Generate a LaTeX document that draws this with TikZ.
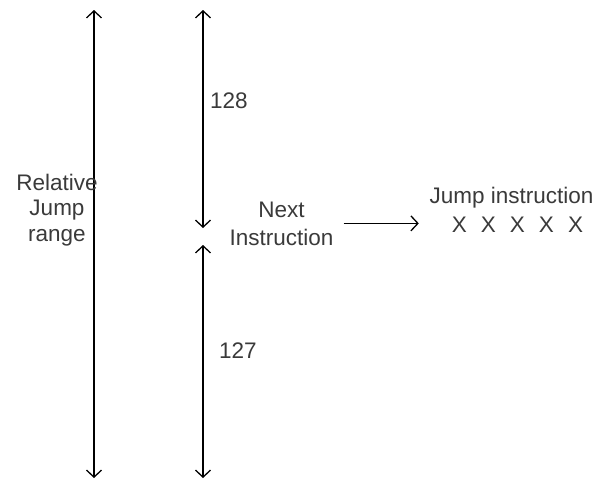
\documentclass[tikz,border=0pt]{standalone}
\usepackage{fontspec}
\setmainfont{Liberation Sans}
\usetikzlibrary{arrows.meta}
\definecolor{txtgray}{HTML}{3A3A3A}
\tikzset{
  barb/.style={line width=1.3pt,{Straight Barb[length=7pt,width=15pt]}-{Straight Barb[length=7pt,width=15pt]}},
  onebarb/.style={line width=1.3pt,-{Straight Barb[length=7pt,width=15pt]}},
  lbl/.style={text=txtgray,font=\fontsize{22.5}{27}\selectfont,inner sep=0pt,align=center}
}

\begin{document}
\begin{tikzpicture}[x=1pt,y=-1pt]
            \useasboundingbox (0,0) rectangle (604,480);
            % end points of the two range arrows
            \coordinate (rtop) at (94,10);   \coordinate (rbot) at (94,478);
            \coordinate (ftop) at (203,10);  \coordinate (fmidA) at (203,228);
            \coordinate (fmidB) at (203,245); \coordinate (fbot) at (203,478);
            \draw[barb] (rtop) -- (rbot);                       % whole range
            \draw[barb] (ftop) -- (fmidA);                      % forward part
            \draw[barb] (fmidB) -- (fbot);                      % backward part
            \node[lbl,anchor=base] (range) at (57,241) {Relative\\[-1.5pt]Jump\\[-1.5pt]range};
            \node[lbl,anchor=base west] (fwd) at (210,108) {128};
            \node[lbl,anchor=base west] (bwd) at (219,358) {127};
            \node[lbl,anchor=base,inner xsep=10pt] (next) at (281.5,245) {Next\\[1pt]Instruction};
            \node[lbl,anchor=base] (jump) at (511.5,203) {Jump instruction};
            \node[lbl,anchor=base,inner xsep=3pt] (xs) at (517.5,232)
                {X\hspace{14pt}X\hspace{14pt}X\hspace{14pt}X\hspace{14pt}X};
            \draw[onebarb,shorten >=30pt] (next.east) -- (next.east -| xs.west); % to the jump
        \end{tikzpicture}
\end{document}
